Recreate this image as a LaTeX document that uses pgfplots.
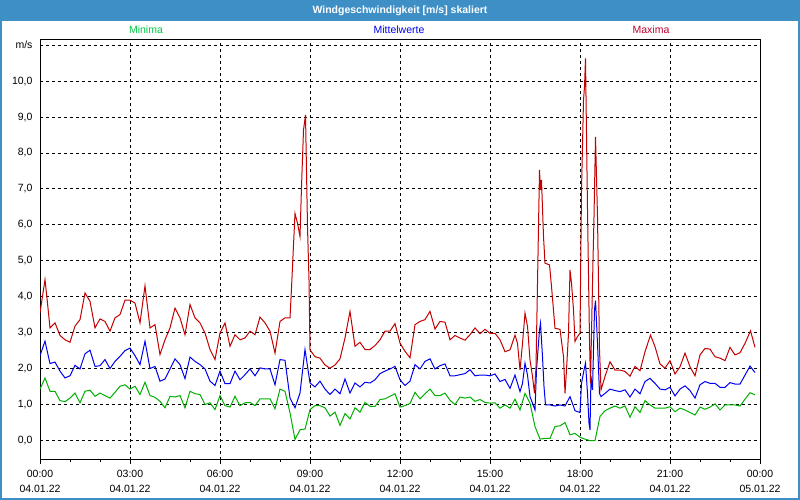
\documentclass[border=0pt]{standalone}
\usepackage{fontspec}
\setmainfont{Liberation Sans}
\usepackage{pgfplots}
\pgfplotsset{compat=1.18}

\definecolor{barblue}{RGB}{62,143,198}
\definecolor{maxred}{RGB}{196,0,0}
\definecolor{meanblue}{RGB}{0,0,240}
\definecolor{mingreen}{RGB}{0,176,0}
\definecolor{mintxt}{RGB}{0,200,70}
\definecolor{maxtxt}{RGB}{192,0,48}

\newcommand{\lbl}{\fontsize{10.5}{15}\selectfont}

\begin{document}
\begin{tikzpicture}
\useasboundingbox (0,0) rectangle (800pt,500pt);
\fill[white] (0,0) rectangle (800pt,500pt);
\fill[barblue] (0,479pt) rectangle (800pt,500pt);
\draw[barblue, line width=2pt] (1pt,1pt) rectangle (799pt,499pt);
\node[white, font=\lbl\bfseries] at (400pt,489.5pt) {Windgeschwindigkeit [m/s] skaliert};
\node[mintxt, font=\lbl] at (146pt,470pt) {Minima};
\node[meanblue, font=\lbl] at (399pt,470pt) {Mittelwerte};
\node[maxtxt, font=\lbl] at (651pt,470pt) {Maxima};

\begin{axis}[
  at={(40pt,40pt)}, anchor=south west,
  scale only axis, width=720pt, height=420pt,
  xmin=0, xmax=1440, ymin=-0.53, ymax=11.14,
  axis line style={black, line width=1pt},
  xtick={0,180,...,1440},
  minor xtick={60,120,...,1380},
  xticklabels={{00:00\\04.01.22},{03:00\\04.01.22},{06:00\\04.01.22},{09:00\\04.01.22},{12:00\\04.01.22},{15:00\\04.01.22},{18:00\\04.01.22},{21:00\\04.01.22},{00:00\\05.01.22}},
  xticklabel style={align=center, font=\lbl, inner sep=0pt, yshift=-6pt},
  ytick={0,1,...,11},
  yticklabels={{0,0},{1,0},{2,0},{3,0},{4,0},{5,0},{6,0},{7,0},{8,0},{9,0},{10,0},m/s},
  yticklabel style={font=\lbl},
  xmajorgrids, ymajorgrids,
  grid style={black, line width=1pt, dash pattern=on 3pt off 3pt},
  tick align=outside,
  major tick length=4pt, minor tick length=2.5pt,
  xtick pos=bottom, ytick pos=left,
  tick style={black, line width=1pt},
  ytick style={draw=none},
  every axis plot/.append style={line width=1pt, no marks, sharp plot},
]

% Minima
\addplot[mingreen] coordinates {
(0,1.44) (10,1.75) (20,1.38) (30,1.38) (40,1.12) (50,1.09) (60,1.19) (70,1.33) (80,1.06) (90,1.38)
(100,1.41) (110,1.24) (120,1.33) (130,1.26) (140,1.19) (150,1.35) (160,1.52) (170,1.56) (180,1.44) (190,1.52)
(200,1.29) (210,1.63) (220,1.26) (230,1.21) (240,1.10) (250,0.92) (260,1.24) (270,1.22) (280,1.26) (290,0.92)
(300,1.38) (310,1.31) (320,1.29) (330,1.01) (340,1.06) (350,0.87) (360,1.26) (370,0.98) (380,0.94) (390,1.24)
(400,0.98) (410,1.06) (420,1.07) (430,0.98) (440,1.17) (450,1.17) (460,1.17) (470,0.89) (480,1.44) (490,1.38)
(500,0.78) (510,0.04) (520,0.31) (530,0.33) (540,0.87) (550,0.98) (560,0.98) (570,0.92) (580,0.69) (590,0.80)
(600,0.43) (610,0.76) (620,0.61) (630,0.92) (640,0.80) (650,1.07) (660,0.96) (670,0.96) (680,1.15) (690,1.17)
(700,1.24) (710,1.31) (720,0.94) (730,0.98) (740,1.04) (750,1.35) (760,1.17) (770,1.31) (780,1.44) (790,1.26)
(800,1.26) (810,1.33) (820,1.13) (830,1.01) (840,1.22) (850,1.19) (860,1.22) (870,1.10) (880,1.15) (890,1.07)
(900,1.05) (910,1.06) (920,0.91) (930,1.00) (940,0.91) (950,1.16) (960,0.86) (970,1.32) (980,1.05) (990,0.40)
(1000,0.05) (1010,0.07) (1020,0.07) (1030,0.40) (1040,0.42) (1050,0.51) (1060,0.17) (1070,0.21) (1080,0.10) (1090,0.05)
(1100,0.01) (1110,0.01) (1120,0.68) (1130,0.84) (1140,0.91) (1150,0.97) (1160,0.91) (1170,0.97) (1180,0.66) (1190,0.95)
(1200,0.79) (1210,1.12) (1220,1.00) (1230,0.91) (1240,0.91) (1250,0.91) (1260,0.95) (1270,0.81) (1280,0.91) (1290,0.86)
(1300,0.79) (1310,0.72) (1320,0.94) (1330,0.88) (1340,0.94) (1350,1.03) (1360,0.86) (1370,1.00) (1380,1.00) (1390,1.00)
(1400,0.97) (1410,1.16) (1420,1.34) (1430,1.28)
};

% Mittelwerte
\addplot[meanblue] coordinates {
(0,2.37) (10,2.77) (20,2.15) (30,2.19) (40,1.94) (50,1.75) (60,1.81) (70,2.10) (80,2.00) (90,2.42)
(100,2.52) (110,2.07) (120,2.09) (130,2.26) (140,2.01) (150,2.21) (160,2.35) (170,2.51) (180,2.58) (190,2.37)
(200,2.12) (210,2.77) (220,2.01) (230,2.07) (240,1.66) (250,1.72) (260,2.00) (270,2.28) (280,2.12) (290,1.73)
(300,2.33) (310,2.21) (320,2.12) (330,2.00) (340,1.66) (350,1.54) (360,1.94) (370,1.59) (380,1.59) (390,1.94)
(400,1.70) (410,1.84) (420,2.00) (430,1.81) (440,2.03) (450,2.00) (460,2.00) (470,1.56) (480,2.26) (490,2.24)
(500,1.19) (510,0.92) (520,1.33) (530,2.54) (540,1.61) (550,1.50) (560,1.66) (570,1.44) (580,1.29) (590,1.44)
(600,1.31) (610,1.72) (620,1.33) (630,1.61) (640,1.50) (650,1.63) (660,1.61) (670,1.70) (680,1.87) (690,1.94)
(700,2.00) (710,2.07) (720,1.70) (730,1.54) (740,1.66) (750,2.12) (760,2.00) (770,2.21) (780,2.28) (790,2.00)
(800,2.09) (810,2.14) (820,1.81) (830,1.81) (840,1.84) (850,1.87) (860,1.98) (870,1.81) (880,1.83) (890,1.83)
(900,1.81) (910,1.86) (920,1.65) (930,1.71) (940,1.46) (950,1.83) (960,1.37) (965,1.60) (970,2.16) (975,1.83)
(980,1.23) (985,1.05) (990,0.86) (993,1.97) (999,3.08) (1001,3.27) (1005,2.34) (1008,1.51) (1011,1.00) (1020,1.00)
(1030,0.97) (1040,1.00) (1050,0.97) (1060,1.23) (1070,0.84) (1080,0.79) (1083,1.60) (1088,1.97) (1091,2.16) (1095,1.32)
(1098,0.49) (1100,0.31) (1102,1.79) (1105,1.42) (1109,3.64) (1111,3.90) (1115,2.71) (1119,1.32) (1122,1.23) (1130,1.32)
(1140,1.44) (1150,1.40) (1160,1.37) (1170,1.42) (1180,1.22) (1190,1.44) (1200,1.31) (1210,1.65) (1220,1.74) (1230,1.60)
(1240,1.44) (1250,1.42) (1260,1.49) (1270,1.25) (1280,1.44) (1290,1.53) (1300,1.40) (1310,1.19) (1320,1.56) (1330,1.65)
(1340,1.60) (1350,1.60) (1360,1.49) (1370,1.49) (1380,1.62) (1390,1.58) (1400,1.58) (1410,1.83) (1420,2.08) (1430,1.90)
};

% Maxima
\addplot[maxred] coordinates {
(0,3.56) (5,4.02) (10,4.48) (15,3.83) (20,3.14) (30,3.28) (40,2.93) (50,2.81) (60,2.74) (70,3.19)
(80,3.37) (90,4.11) (100,3.88) (110,3.14) (120,3.39) (130,3.32) (140,3.05) (150,3.42) (160,3.51) (170,3.91)
(180,3.91) (190,3.83) (200,3.28) (210,4.31) (220,3.14) (230,3.23) (240,2.40) (250,2.81) (260,3.14) (270,3.69)
(280,3.42) (290,2.95) (300,3.79) (310,3.42) (320,3.28) (330,3.00) (340,2.54) (350,2.26) (360,3.00) (370,3.28)
(380,2.63) (390,2.95) (400,2.81) (410,2.86) (420,3.05) (430,2.95) (440,3.44) (450,3.28) (460,3.05) (470,2.44)
(480,3.32) (490,3.42) (500,3.42) (503,4.24) (507,5.44) (510,6.32) (515,6.05) (520,5.68) (523,7.06) (527,8.64)
(531,9.06) (535,5.95) (538,4.47) (540,2.53) (550,2.34) (560,2.30) (570,2.11) (580,2.02) (590,2.11) (600,2.28)
(610,2.86) (620,3.60) (630,2.63) (640,2.74) (650,2.54) (660,2.54) (670,2.65) (680,2.81) (690,3.05) (700,3.05)
(710,3.26) (720,2.72) (730,2.49) (740,2.31) (750,3.23) (760,3.32) (770,3.37) (780,3.60) (790,3.11) (800,3.32)
(810,3.30) (820,2.81) (830,2.93) (840,2.86) (850,2.80) (860,2.95) (870,3.14) (880,2.98) (890,3.10) (900,2.99)
(910,2.99) (920,2.81) (930,2.48) (940,2.53) (950,2.94) (955,2.71) (960,1.97) (965,2.71) (970,3.55) (975,3.18)
(980,2.25) (985,1.79) (989,1.32) (992,2.06) (995,4.38) (999,7.53) (1001,6.97) (1003,7.25) (1007,5.68) (1010,4.94)
(1019,4.89) (1023,4.29) (1030,3.13) (1040,3.10) (1047,2.34) (1050,1.32) (1053,1.97) (1057,2.99) (1060,4.75) (1063,4.38)
(1067,3.64) (1070,2.76) (1075,2.90) (1080,2.99) (1083,6.97) (1087,9.47) (1089,9.84) (1091,10.63) (1095,6.42) (1099,2.81)
(1101,1.60) (1105,4.38) (1108,6.23) (1111,8.45) (1115,6.23) (1119,2.53) (1122,1.42) (1130,1.79) (1140,2.20) (1150,1.97)
(1160,1.97) (1170,1.93) (1180,1.80) (1190,2.07) (1200,1.95) (1210,2.48) (1221,2.94) (1230,2.62) (1240,2.14) (1250,2.02)
(1260,2.23) (1270,1.86) (1280,2.06) (1290,2.44) (1300,2.06) (1310,1.81) (1320,2.39) (1330,2.57) (1340,2.55) (1350,2.34)
(1360,2.30) (1370,2.23) (1380,2.60) (1390,2.39) (1400,2.45) (1410,2.71) (1421,3.06) (1430,2.60)
};

\end{axis}
\end{tikzpicture}
\end{document}
